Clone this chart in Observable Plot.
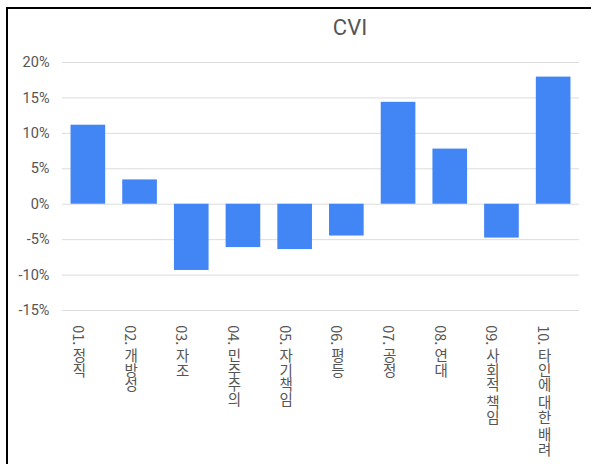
<!DOCTYPE html>
<html>
<head>
<meta charset="utf-8">
<script src="https://cdn.jsdelivr.net/npm/d3@7"></script>
<script src="https://cdn.jsdelivr.net/npm/@observablehq/plot@0.6"></script>
<style>
  html, body { margin: 0; padding: 0; background: #fff; }
  body { width: 591px; height: 464px; overflow: hidden; position: relative; font-family: Roboto, "Noto Sans CJK KR", sans-serif; }
  #frame { position: absolute; left: 6px; top: 7px; width: 620px; height: 500px; border-left: 2px solid #000; border-top: 2px solid #000; }
  #title { position: absolute; left: 350px; top: 15px; transform: translateX(-50%); font-size: 22px; color: #555; white-space: nowrap; }
  #chart { position: absolute; left: 0; top: 45px; }
  text.vlabel { writing-mode: vertical-rl; text-orientation: mixed; font-family: "Noto Sans CJK KR", sans-serif; }
</style>
</head>
<body>
<div id="frame"></div>
<div id="title">CVI</div>
<div id="chart"></div>
<script>
const categories = ["01. 정직", "02. 개방성", "03. 자조", "04. 민주주의", "05. 자기책임", "06. 평등", "07. 공정", "08. 연대", "09. 사회적 책임", "10. 타인에 대한 배려"];
const values = [11.15, 3.43, -9.35, -6.12, -6.4, -4.49, 14.38, 7.78, -4.78, 17.94];
const yTicks = [-15, -10, -5, 0, 5, 10, 15, 20];

const data = categories.map((c, i) => ({cat: c, v: values[i]}));

const svg = Plot.plot({
  width: 591,
  height: 419,
  marginTop: 17,
  marginBottom: 154,
  marginLeft: 62,
  marginRight: 12,
  style: {fontFamily: "Roboto, 'Noto Sans CJK KR', sans-serif", fontSize: "14.5px", color: "#555", background: "transparent"},
  x: {domain: categories, paddingInner: 0.33, paddingOuter: 0.165, round: false, axis: null},
  y: {domain: [-15, 20]},
  marks: [
    Plot.ruleY(yTicks, {stroke: "#dcdcdc", strokeWidth: 1}),
    Plot.axisY({ticks: yTicks, tickFormat: d => d + "%", tickSize: 0, tickPadding: 13, label: null}),
    Plot.barY(data, {x: "cat", y: "v", fill: "#4285f4"}),
    Plot.text(categories, {x: d => d, y: () => -15, text: d => d, dy: 10, dx: -9, textAnchor: "start", fill: "#555", fontSize: 14.5})
  ]
});

d3.select(svg).selectAll("text")
  .filter(function() { return categories.includes(this.textContent); })
  .attr("dy", null)
  .attr("class", "vlabel")
  .attr("writing-mode", "vertical-rl")
  .style("writing-mode", "vertical-rl")
  .style("text-orientation", "mixed");

document.getElementById("chart").appendChild(svg);
</script>
</body>
</html>
